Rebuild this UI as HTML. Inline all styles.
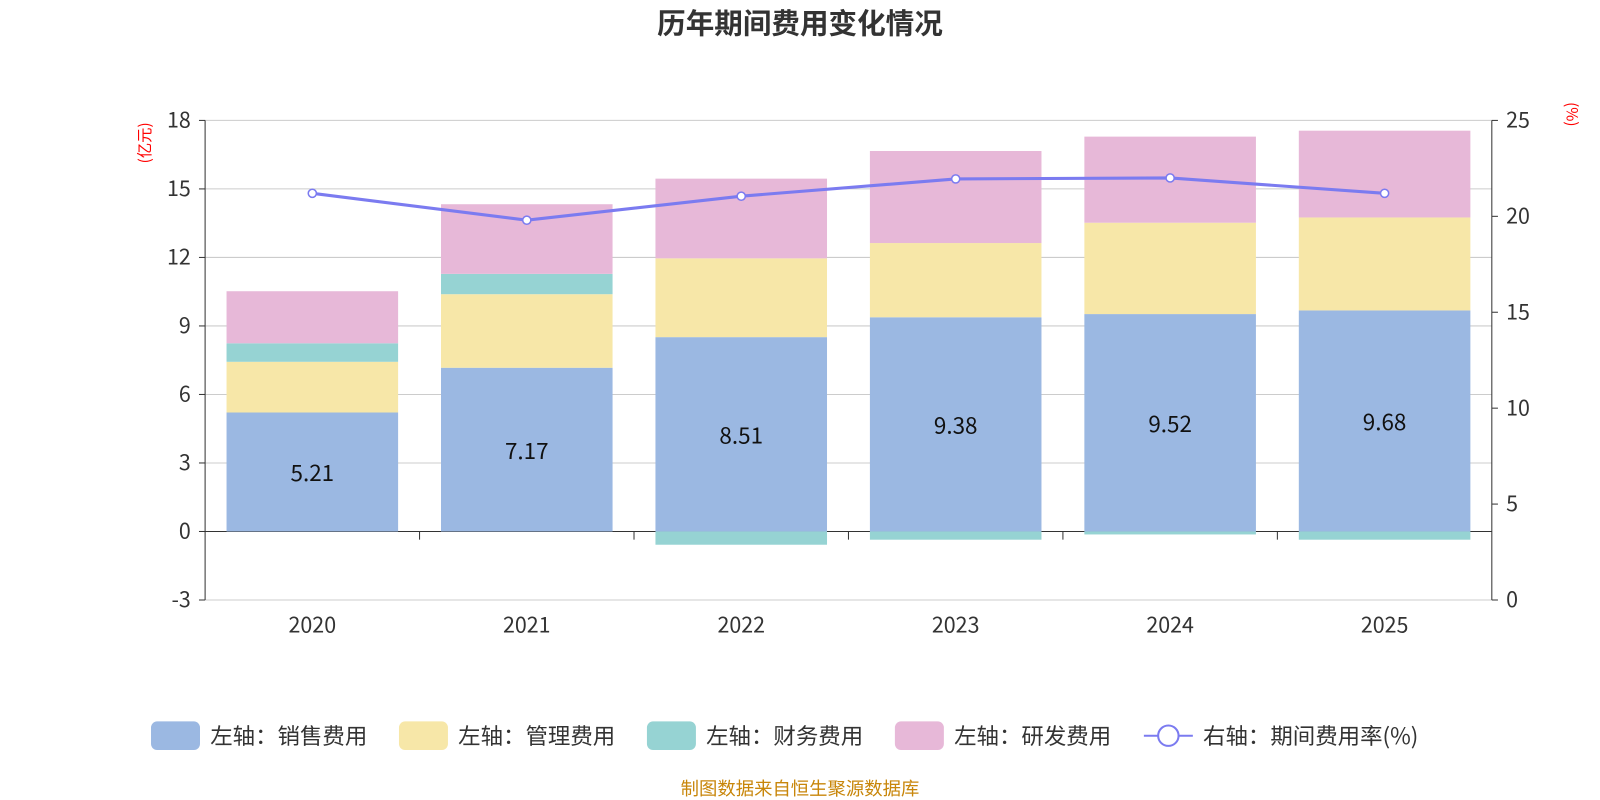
<!DOCTYPE html>
<html><head><meta charset="utf-8"><style>
body{margin:0;background:#fff;}
svg{display:block;font-family:"Noto Sans CJK SC","Liberation Sans",sans-serif;}
</style></head><body>
<svg id="c" width="1600" height="800">
<g transform="scale(1.0204)">
<text x="784" y="33" text-anchor="middle" font-size="28" font-weight="bold" fill="#333">历年期间费用变化情况</text>
<text transform="translate(147,140) rotate(-90)" text-anchor="middle" font-size="15" fill="red">(亿元)</text>
<text transform="translate(1535,112) rotate(90)" text-anchor="middle" font-size="15" fill="red">(%)</text>
<text x="784" y="779" text-anchor="middle" font-size="18" fill="#c8860a">制图数据来自恒生聚源数据库</text>
<g id="grid"></g><g id="bars"></g><g id="axes"></g><g id="line"></g><g id="legend"></g>
</g>
</svg>
<script>
const categories=["2020","2021","2022","2023","2024","2025"];
const sales=[5.21,7.17,8.51,9.38,9.52,9.68];
const admin=[2.22,3.22,3.45,3.25,4.0,4.07];
const finance=[0.81,0.89,-0.58,-0.36,-0.13,-0.36];
const rnd=[2.28,3.05,3.49,4.03,3.77,3.8];
const rate=[21.2,19.8,21.05,21.95,22.0,21.2];
const leftTicks=[-3,0,3,6,9,12,15,18];
const rightTicks=[0,5,10,15,20,25];
const NS="http://www.w3.org/2000/svg";
const X0=201,X1=1462,YT=118,YB=588;
const yL=v=>YB-(v+3)/21*(YB-YT);
const yR=v=>YB-v/25*(YB-YT);
const band=(X1-X0)/categories.length;
const xC=i=>X0+band*(i+0.5);
function mk(t,a,p){const e=document.createElementNS(NS,t);for(const k in a)e.setAttribute(k,a[k]);p.appendChild(e);return e;}
const G=document.getElementById('grid'),B=document.getElementById('bars'),A=document.getElementById('axes'),L=document.getElementById('line'),LG=document.getElementById('legend');
leftTicks.forEach(v=>{
 const g=mk('line',{x1:X0,x2:X1,y1:yL(v),y2:yL(v),stroke:v===0?'#333':'#ccc','stroke-width':1},G);
 
 
 const t=mk('text',{x:X0-14,y:yL(v)+7,'text-anchor':'end','font-size':21,fill:'#333'},A);t.textContent=v;
 
 
 mk('line',{x1:X0-6,x2:X0,y1:yL(v),y2:yL(v),stroke:'#333'},A);
});
rightTicks.forEach(v=>{
 const t=mk('text',{x:X1+14,y:yR(v)+7,'font-size':21,fill:'#333'},A);t.textContent=v;
 
 
 mk('line',{x1:X1,x2:X1+6,y1:yR(v),y2:yR(v),stroke:'#333'},A);
});
mk('line',{x1:X0,x2:X0,y1:YT,y2:YB,stroke:'#333'},A);
mk('line',{x1:X1,x2:X1,y1:YT,y2:YB,stroke:'#333'},A);
const series=[[sales,'#9bb8e2','sales'],[admin,'#f7e7a8','admin'],[finance,'#96d3d3','finance'],[rnd,'#e7b8d8','rnd']];
const bw=band*0.8;
categories.forEach((c,i)=>{
 let pos=0,neg=0;
 series.forEach(([arr,col,n])=>{
  const v=arr[i];let y0,y1;
  if(v>=0){y0=pos;y1=pos+v;pos=y1;}else{y0=neg;y1=neg+v;neg=y1;}
  const r=mk('rect',{x:xC(i)-bw/2,y:Math.min(yL(y0),yL(y1)),width:bw,height:Math.abs(yL(y0)-yL(y1)),fill:col},B);
  
  
 });
 const t=mk('text',{x:xC(i),y:yL(sales[i]/2)+9,'text-anchor':'middle','font-size':22,fill:'#111'},B);t.textContent=sales[i].toFixed(2);
 
 
 const xl=mk('text',{x:xC(i),y:620,'text-anchor':'middle','font-size':21,fill:'#333'},A);xl.textContent=c;
 
 
 if(i>0)mk('line',{x1:X0+band*i,x2:X0+band*i,y1:yL(0),y2:yL(0)+8,stroke:'#333'},A);
});
const pl=mk('polyline',{points:categories.map((c,i)=>xC(i)+','+yR(rate[i])).join(' '),fill:'none',stroke:'#7b7bf0','stroke-width':3},L);


categories.forEach((c,i)=>{
 const p=mk('circle',{cx:xC(i),cy:yR(rate[i]),r:4,fill:'#fff',stroke:'#7b7bf0','stroke-width':1.5},L);
 
 
});
const legend=[['左轴：销售费用','#9bb8e2',148],['左轴：管理费用','#f7e7a8',391],['左轴：财务费用','#96d3d3',634],['左轴：研发费用','#e7b8d8',877]];
legend.forEach(([t,col,x])=>{
 const g=mk('g',{},LG);
 
 
 mk('rect',{x:x,y:707,width:48,height:28,rx:6,fill:col},g);
 const tx=mk('text',{x:x+58,y:729,'font-size':22,fill:'#333'},g);tx.textContent=t;
});
const g=mk('g',{},LG);


mk('line',{x1:1121,x2:1169,y1:721,y2:721,stroke:'#7b7bf0','stroke-width':2},g);
mk('circle',{cx:1145,cy:721,r:10,fill:'#fff',stroke:'#7b7bf0','stroke-width':2},g);
const tx=mk('text',{x:1179,y:729,'font-size':22,fill:'#333'},g);tx.textContent='右轴：期间费用率(%)';
</script>
</body></html>
